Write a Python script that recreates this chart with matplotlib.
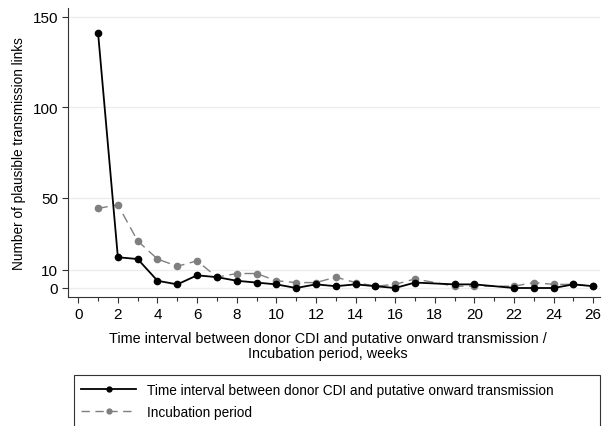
import matplotlib.pyplot as plt
from matplotlib.lines import Line2D
from matplotlib.patches import Rectangle

plt.rcParams['font.family'] = ['Liberation Sans', 'DejaVu Sans']

# weeks with observations (no links at weeks 18 and 21)
weeks = [1, 2, 3, 4, 5, 6, 7, 8, 9, 10, 11, 12, 13, 14, 15, 16, 17, 19, 20, 22, 23, 24, 25, 26]

# time interval between donor CDI and putative onward transmission
interval_links = [141, 17, 16, 4, 2, 7, 6, 4, 3, 2, 0, 2, 1, 2, 1, 0, 3, 2, 2, 0, 0, 0, 2, 1]

# incubation period
incubation_links = [44, 46, 26, 16, 12, 15, 6, 8, 8, 4, 3, 3, 6, 3, 1, 2, 5, 1, 1, 1, 3, 2, 2, 1]

y_ticks = [0, 10, 50, 100, 150]
x_ticks = list(range(0, 27, 2))

fig = plt.figure(figsize=(6.05, 4.27), dpi=100)
ax = fig.add_axes([0.112, 0.302, 0.880, 0.678])

for yt in y_ticks:
    ax.axhline(yt, color='#ececec', lw=0.9, zorder=0)

ax.plot(weeks, incubation_links, color='#7f7f7f', lw=1.0, ls=(0, (7, 4)),
        marker='o', ms=4.5, mfc='#7f7f7f', mec='#7f7f7f', zorder=2)
ax.plot(weeks, interval_links, color='black', lw=1.3,
        marker='o', ms=4.5, mfc='black', mec='black', zorder=3)

ax.set_xlim(-0.53, 26.35)
ax.set_ylim(-5, 155)
ax.set_xticks(x_ticks)
ax.set_xticks(range(1, 27, 2), minor=True)
ax.set_yticks(y_ticks)
ax.tick_params(axis='both', labelsize=11, length=4.5, width=0.8, color='#333333', pad=2.5)
ax.tick_params(axis='x', which='minor', length=3, width=0.8, color='#333333')

for side in ['top', 'right']:
    ax.spines[side].set_visible(False)
for side in ['left', 'bottom']:
    ax.spines[side].set_color('#333333')
    ax.spines[side].set_linewidth(0.8)

ax.set_ylabel('Number of plausible transmission links', fontsize=9.8, labelpad=5)
ax.set_xlabel('Time interval between donor CDI and putative onward transmission /\n'
              'Incubation period, weeks', fontsize=10.4, linespacing=1.1)
ax.xaxis.set_label_coords(0.488, -0.118, transform=ax.transAxes)
ax.xaxis.label.set_va('top')

# legend box runs off the right and bottom of the figure
fig.patches.append(Rectangle((0.122, -0.05), 0.87, 0.169, transform=fig.transFigure,
                             fill=False, edgecolor='#333333', lw=0.8))

handles = [
    Line2D([], [], color='black', lw=1.3, marker='o', ms=3.5),
    Line2D([], [], color='#7f7f7f', lw=1.0, ls=(0, (6, 4)), marker='o', ms=3.5),
]
labels = ['Time interval between donor CDI and putative onward transmission',
          'Incubation period']
fig.legend(handles, labels, loc='upper left', bbox_to_anchor=(0.122, 0.117),
           fontsize=9.8, frameon=False, borderpad=0.5, handlelength=4.1,
           handletextpad=0.8, labelspacing=0.6, borderaxespad=0)

fig.savefig('out.png', dpi=100)
